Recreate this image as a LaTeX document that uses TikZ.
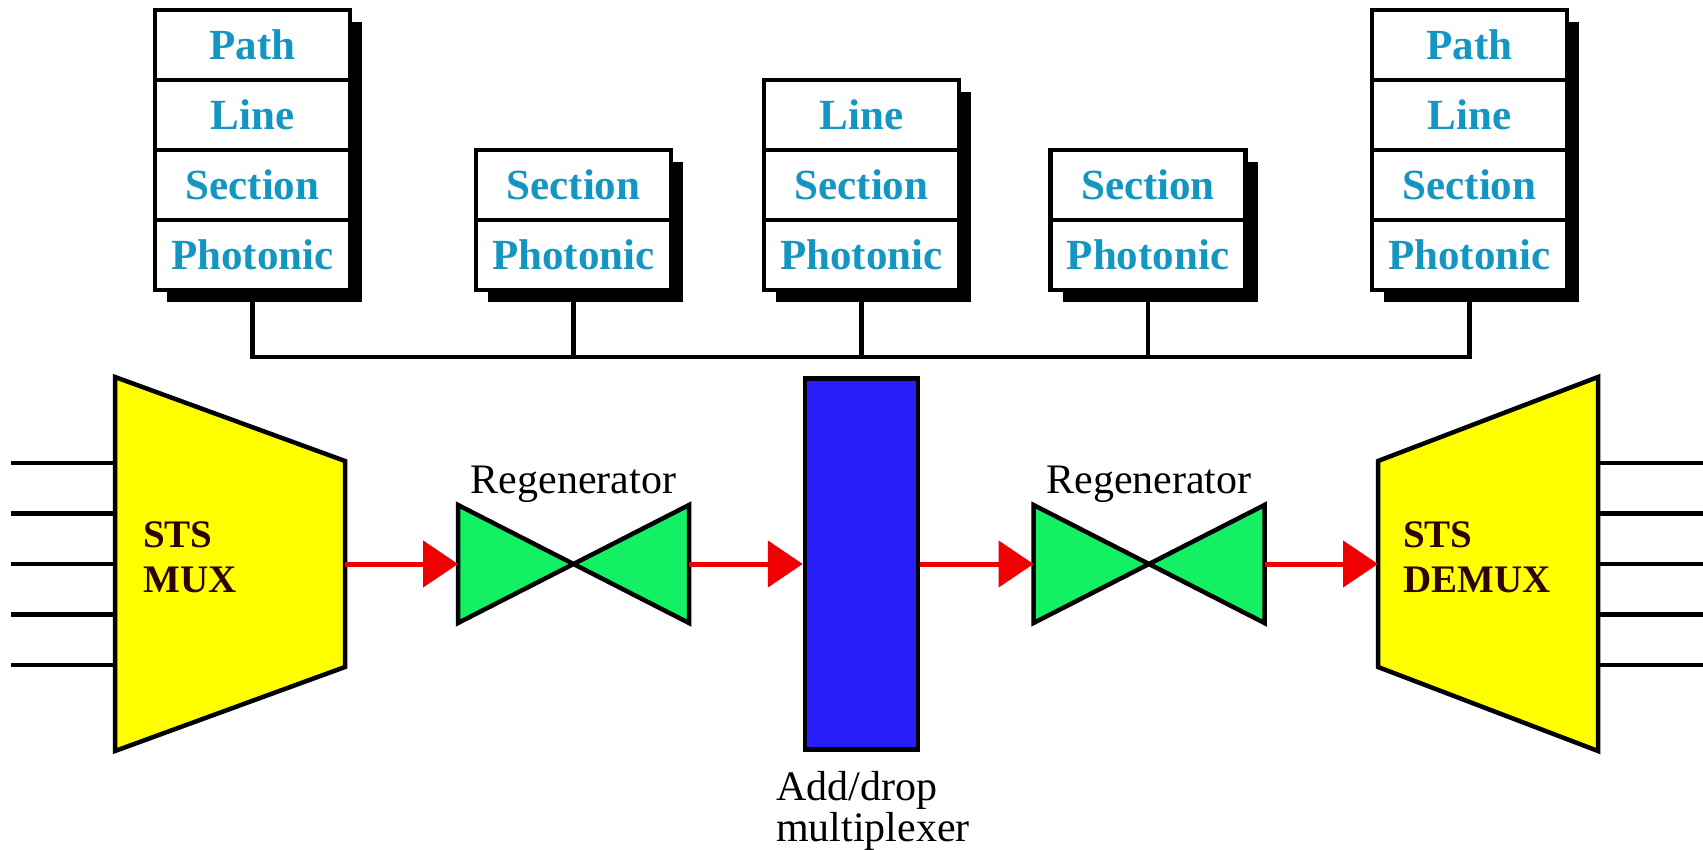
\documentclass[tikz,border=0pt]{standalone}
\usepackage{fontspec}
\setmainfont{Liberation Serif}
\usepackage{tikz}
\usetikzlibrary{arrows.meta,positioning}
\definecolor{LayerBlue}{RGB}{20,150,195}
\definecolor{MuxYellow}{RGB}{255,255,0}
\definecolor{RegenGreen}{RGB}{20,240,100}
\definecolor{AdmBlue}{RGB}{40,30,250}
\definecolor{SigRed}{RGB}{240,0,0}
\definecolor{StsText}{RGB}{45,5,5}

\begin{document}
\begin{tikzpicture}[x=1pt,y=-1pt,
  layer/.style={draw,line width=4.5pt,fill=white,minimum width=195pt,minimum height=70pt,
    inner sep=0pt,font=\fontsize{43}{46}\selectfont\bfseries,text=LayerBlue},
  wire/.style={line width=4.5pt},
  dev/.style={draw,line width=4.5pt,line join=miter},
  sig/.style={SigRed,line width=5pt,-{Triangle[length=35pt,width=46pt]}},
  plain/.style={font=\fontsize{42}{41}\selectfont,inner sep=0pt},
  muxlabel/.style={font=\fontsize{39}{45}\selectfont\bfseries,text=StsText,
    align=left,inner sep=0pt,anchor=west}]
\useasboundingbox (0,0) rectangle (1703,850);

% layer stacks, bottom row first
\foreach \s/\x/\n/\labs in {a/252.5/4/{Photonic,Section,Line,Path},
  b/573.5/2/{Photonic,Section}, c/861.5/3/{Photonic,Section,Line},
  d/1148/2/{Photonic,Section}, e/1469.5/4/{Photonic,Section,Line,Path}}{
  \fill (\x-97.5+12,302) rectangle (\x+97.5+12,290-\n*70+12);
  \foreach \lab [count=\i] in \labs
    \node[layer] (\s\i) at (\x,325-\i*70) {\lab};
}

% bus
\coordinate (bus) at (0,357);
\draw[wire] (a1.south) -- (a1.south |- bus) -- (e1.south |- bus) -- (e1.south);
\foreach \s in {b,c,d}
  \draw[wire] (\s1.south) -- (\s1.south |- bus);

% mux / demux
\draw[dev,fill=MuxYellow] (115,377) -- (345,461) -- (345,667) -- (115,751) -- cycle;
\draw[dev,fill=MuxYellow] (1378,461) -- (1598,377) -- (1598,751) -- (1378,667) -- cycle;
\coordinate (mux-w) at (115,564);
\coordinate (mux-e) at (345,564);
\coordinate (demux-w) at (1378,564);
\coordinate (demux-e) at (1598,564);
\foreach \y in {463,513.5,564,614.5,665}{
  \draw[wire] (11,\y) -- (mux-w |- 0,\y);
  \draw[wire] (demux-e |- 0,\y) -- (1703,\y);
}
\node[muxlabel] (muxlab) at (143,557) {STS\\MUX};
\node[muxlabel] (demuxlab) at (1403,557) {STS\\DEMUX};

% regenerators
\foreach \r/\x in {r1/573.5, r2/1149}{
  \draw[dev,fill=RegenGreen] (\x-115.5,505) -- (\x+115.5,623) -- (\x+115.5,505)
    -- (\x-115.5,623) -- cycle;
  \coordinate (\r-in) at (\x-115.5,564);
  \coordinate (\r-out) at (\x+115.5,564);
  \node[plain,anchor=base] (\r-lab) at (\x,493) {Regenerator};
}

% add/drop multiplexer
\node[draw,line width=4.5pt,fill=AdmBlue,minimum width=113pt,minimum height=371pt]
  (adm) at (861.5,564) {};
\node[plain,align=left,anchor=north west] (admlab) at (776,771) {Add/drop\\multiplexer};

\draw[sig] (mux-e) -- (r1-in);
\draw[sig] (r1-out) -- (adm.west);
\draw[sig] (adm.east) -- (r2-in);
\draw[sig] (r2-out) -- (demux-w);
\end{tikzpicture}
\end{document}
